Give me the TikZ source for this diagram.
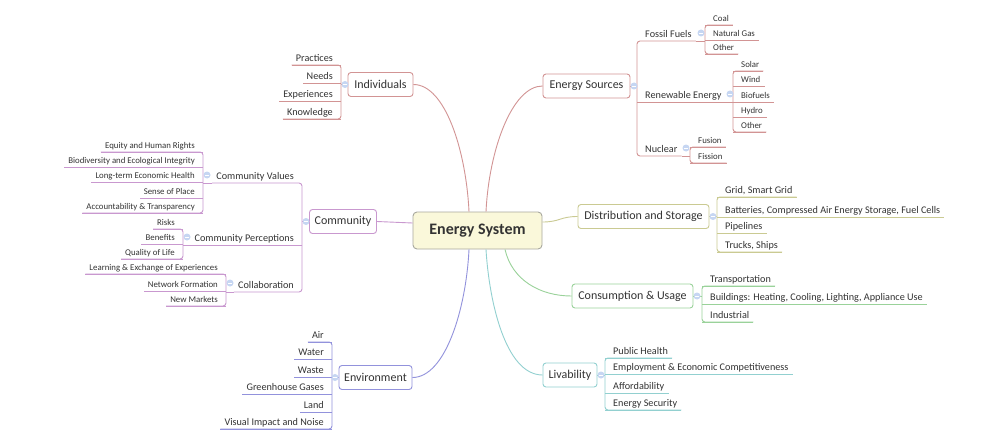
\documentclass[tikz,border=0pt]{standalone}
\usepackage{fontspec}
\setmainfont{Carlito}
\usetikzlibrary{calc}
\definecolor{cR}{HTML}{D29494}
\definecolor{cP}{HTML}{C998CF}
\definecolor{cB}{HTML}{9292DC}
\definecolor{cY}{HTML}{CACA92}
\definecolor{cG}{HTML}{9AD29A}
\definecolor{cT}{HTML}{92D0D0}
\definecolor{txt}{HTML}{333333}
\definecolor{mkc}{HTML}{C6D6F2}
\definecolor{ctrfill}{HTML}{FAF8DA}
\definecolor{ctrdraw}{HTML}{A8A89E}
\tikzset{
  ln/.style={draw=#1, line width=0.9pt},
  box/.style={draw=#1, line width=0.9pt, rounded corners=3pt, fill=white, minimum height=24pt, inner xsep=2pt, text=txt, font=\fontsize{12}{14}\selectfont},
  ctrbox/.style={draw=ctrdraw, line width=0.9pt, rounded corners=4pt, fill=ctrfill, minimum width=129pt, minimum height=37pt, text=txt, font=\fontsize{16}{18}\bfseries},
  leafA/.style={text=txt, font=\fontsize{10.2}{12}\selectfont, inner xsep=4pt, inner ysep=1.5pt, text height=7pt, text depth=2pt},
  leafB/.style={text=txt, font=\fontsize{8.8}{10}\selectfont, inner xsep=4pt, inner ysep=1.5pt, text height=6pt, text depth=2pt},
  marker/.style={circle, fill=mkc, minimum size=7pt, inner sep=0pt,
    path picture={\draw[white, line width=0.8pt] ([xshift=-2pt]path picture bounding box.center) -- ([xshift=2pt]path picture bounding box.center);}}
}
% right-side child: name, spine x, underline y, style, colour, text
\newcommand\kidR[6]{\node[#4,anchor=south west] (#1) at (#2+4,#3) {#6};
  \draw[ln=#5] ([xshift=-4pt]#1.south west) -- (#1.south east);}
\newcommand\kidL[6]{\node[#4,anchor=south east] (#1) at (#2-4,#3) {#6};
  \draw[ln=#5] ([xshift=4pt]#1.south east) -- (#1.south west);}
\newcommand\spineR[3]{\draw[ln=#3, rounded corners=3pt] (#1.south east) -- ([xshift=-4pt]#1.south west) -- ([xshift=-4pt]#2.south west) -- (#2.south east);}
\newcommand\spineL[3]{\draw[ln=#3, rounded corners=3pt] (#1.south west) -- ([xshift=4pt]#1.south east) -- ([xshift=4pt]#2.south east) -- (#2.south west);}
\begin{document}
\begin{tikzpicture}[x=1pt,y=-1pt]
\fill[white] (0,0) rectangle (1003,441);
\useasboundingbox (0,0) rectangle (1003,441);

% centre and main branches
\node[ctrbox] (ctr) at (477.5,230.5) {Energy System};
\node[box=cR, minimum width=65pt] (ind) at (380.5,84.5) {Individuals};
\node[box=cP, minimum width=67pt] (com) at (343,221.5) {Community};
\node[box=cB, minimum width=73pt] (env) at (375.5,377.5) {Environment};
\node[box=cR, minimum width=87pt] (es) at (586.5,86) {Energy Sources};
\node[box=cY, minimum width=131pt] (dis) at (643.5,216.5) {Distribution and Storage};
\node[box=cG, minimum width=121pt] (con) at (632.5,296) {Consumption \& Usage};
\node[box=cT, minimum width=54pt] (liv) at (570,375) {Livability};

\draw[ln=cR] (ind.east) .. controls (445,84.5) and (466,150) .. ([xshift=-8.5pt]ctr.north);
\draw[ln=cR] (es.west) .. controls (512,86) and (489,150) .. ([xshift=8.5pt]ctr.north);
\draw[ln=cB] (env.east) .. controls (445,377.5) and (466,310) .. ([xshift=-8.5pt]ctr.south);
\draw[ln=cT] (liv.west) .. controls (505,375) and (489,300) .. ([xshift=8.5pt]ctr.south);
\draw[ln=cG] (con.west) .. controls (540,296) and (512,280) .. ([xshift=27.5pt]ctr.south);
\draw[ln=cP] (com.east) .. controls (395,221.5) and (395,223) .. ([yshift=7.5pt]ctr.west);
\draw[ln=cY] (dis.west) .. controls (560,216.5) and (560,222) .. ([yshift=8.5pt]ctr.east);

% Individuals
\kidL{prac}{341}{65}{leafA}{cR}{Practices}
\kidL{need}{341}{83}{leafA}{cR}{Needs}
\kidL{expe}{341}{101}{leafA}{cR}{Experiences}
\kidL{know}{341}{119}{leafA}{cR}{Knowledge}
\spineL{prac}{know}{cR}
\draw[ln=cR] (ind.west) -- ($(prac.south east |- ind.west)+(4,0)$);

% Community
\node[leafA, anchor=south east] (cv) at (298,183) {Community Values};
\node[leafA, anchor=south east] (cp) at (298,245) {Community Perceptions};
\node[leafA, anchor=south east] (cl) at (298,292) {Collaboration};
\spineL{cv}{cl}{cP}
\draw[ln=cP] ([xshift=4pt]cp.south east) -- (cp.south west);
\draw[ln=cP] (com.west) -- ($(cv.south east |- com.west)+(4,0)$);

\kidL{eq}{203}{152}{leafB}{cP}{Equity and Human Rights}
\kidL{bio}{203}{167}{leafB}{cP}{Biodiversity and Ecological Integrity}
\kidL{lte}{203}{182}{leafB}{cP}{Long-term Economic Health}
\kidL{sop}{203}{198}{leafB}{cP}{Sense of Place}
\kidL{acc}{203}{213}{leafB}{cP}{Accountability \& Transparency}
\spineL{eq}{acc}{cP}
\draw[ln=cP] (cv.south west) -- ($(eq.south east |- cv.south west)+(4,0)$);

\kidL{risk}{183}{229}{leafB}{cP}{Risks}
\kidL{bene}{183}{244}{leafB}{cP}{Benefits}
\kidL{qol}{183}{259}{leafB}{cP}{Quality of Life}
\spineL{risk}{qol}{cP}
\draw[ln=cP] (cp.south west) -- ($(risk.south east |- cp.south west)+(4,0)$);

\kidL{lex}{226}{274}{leafB}{cP}{Learning \& Exchange of Experiences}
\kidL{netf}{226}{291}{leafB}{cP}{Network Formation}
\kidL{newm}{226}{306}{leafB}{cP}{New Markets}
\spineL{lex}{newm}{cP}
\draw[ln=cP] (cl.south west) -- ($(lex.south east |- cl.south west)+(4,0)$);

% Environment
\kidL{air}{332}{342}{leafA}{cB}{Air}
\kidL{wat}{332}{359}{leafA}{cB}{Water}
\kidL{was}{332}{377}{leafA}{cB}{Waste}
\kidL{ghg}{332}{394}{leafA}{cB}{Greenhouse Gases}
\kidL{land}{332}{412}{leafA}{cB}{Land}
\kidL{vis}{332}{429}{leafA}{cB}{Visual Impact and Noise}
\spineL{air}{vis}{cB}
\draw[ln=cB] (env.west) -- ($(air.south east |- env.west)+(4,0)$);

% Energy Sources
\node[leafA, anchor=south west] (ff) at (641,41) {Fossil Fuels};
\node[leafA, anchor=south west] (re) at (641,102) {Renewable Energy};
\node[leafA, anchor=south west] (nuc) at (641,156) {Nuclear};
\spineR{ff}{nuc}{cR}
\draw[ln=cR] ([xshift=-4pt]re.south west) -- (re.south east);
\draw[ln=cR] (es.east) -- ($(ff.south west |- es.east)+(-4,0)$);

\kidR{coal}{705}{25}{leafB}{cR}{Coal}
\kidR{gas}{705}{40}{leafB}{cR}{Natural Gas}
\kidR{oth}{705}{54}{leafB}{cR}{Other}
\spineR{coal}{oth}{cR}
\draw[ln=cR] (ff.south east) -- ($(coal.south west |- ff.south east)+(-4,0)$);

\kidR{sol}{733}{71}{leafB}{cR}{Solar}
\kidR{wind}{733}{86}{leafB}{cR}{Wind}
\kidR{biof}{733}{102}{leafB}{cR}{Biofuels}
\kidR{hyd}{733}{117}{leafB}{cR}{Hydro}
\kidR{oth2}{733}{132}{leafB}{cR}{Other}
\spineR{sol}{oth2}{cR}
\draw[ln=cR] (re.south east) -- ($(sol.south west |- re.south east)+(-4,0)$);

\kidR{fus}{690}{147}{leafB}{cR}{Fusion}
\kidR{fis}{690}{163}{leafB}{cR}{Fission}
\spineR{fus}{fis}{cR}
\draw[ln=cR] (nuc.south east) -- ($(fus.south west |- nuc.south east)+(-4,0)$);

% Distribution and Storage
\kidR{grid}{717}{197}{leafA}{cY}{Grid, Smart Grid}
\kidR{bat}{717}{217}{leafA}{cY}{Batteries, Compressed Air Energy Storage, Fuel Cells}
\kidR{pipe}{717}{233}{leafA}{cY}{Pipelines}
\kidR{truck}{717}{252}{leafA}{cY}{Trucks, Ships}
\spineR{grid}{truck}{cY}
\draw[ln=cY] (dis.east) -- ($(grid.south west |- dis.east)+(-4,0)$);

% Consumption & Usage
\kidR{trans}{702}{286}{leafA}{cG}{Transportation}
\kidR{build}{702}{304}{leafA}{cG}{Buildings: Heating, Cooling, Lighting, Appliance Use}
\kidR{indu}{702}{322}{leafA}{cG}{Industrial}
\spineR{trans}{indu}{cG}
\draw[ln=cG] (con.east) -- ($(trans.south west |- con.east)+(-4,0)$);

% Livability
\kidR{ph}{605}{358}{leafA}{cT}{Public Health}
\kidR{emp}{605}{374}{leafA}{cT}{Employment \& Economic Competitiveness}
\kidR{aff}{605}{393}{leafA}{cT}{Affordability}
\kidR{esec}{605}{410}{leafA}{cT}{Energy Security}
\spineR{ph}{esec}{cT}
\draw[ln=cT] (liv.east) -- ($(ph.south west |- liv.east)+(-4,0)$);

% collapse markers
\node[marker] (m1) at (345,84.5) {};
\node[marker] (m2) at (306,221.5) {};
\node[marker] (m3) at (207,175) {};
\node[marker] (m4) at (187,237) {};
\node[marker] (m5) at (230,283) {};
\node[marker] (m6) at (335,377.5) {};
\node[marker] (m7) at (634,86) {};
\node[marker] (m8) at (701,33) {};
\node[marker] (m9) at (730,94) {};
\node[marker] (m10) at (686,148) {};
\node[marker] (m11) at (713,216.5) {};
\node[marker] (m12) at (697,296) {};
\node[marker] (m13) at (601,375) {};
\end{tikzpicture}
\end{document}
